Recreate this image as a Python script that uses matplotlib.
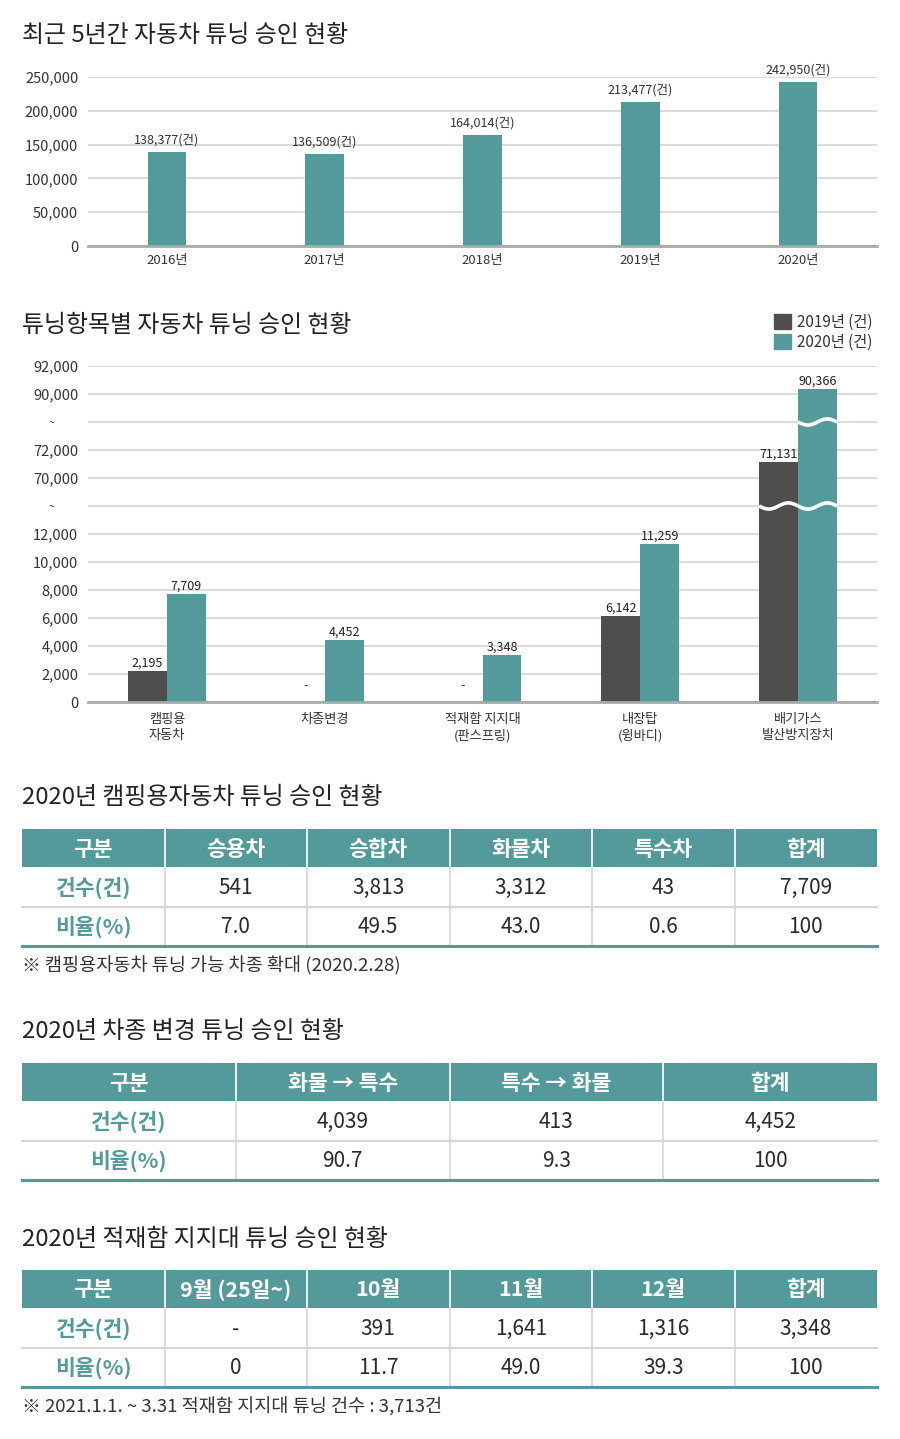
"""자동차 튜닝 승인 현황 인포그래픽 (막대 차트 2개 + 표 3개)."""
import numpy as np
import matplotlib
matplotlib.use("Agg")
import matplotlib.pyplot as plt
from matplotlib.patches import Rectangle, Patch
from matplotlib.ticker import FuncFormatter

plt.rcParams['font.family'] = ['Noto Sans CJK KR', 'DejaVu Sans']

TEAL = '#559a9b'
DARK = '#4f4d4e'
GRID = '#d6d6d6'
BASE = '#aaaaaa'
TXT = '#333333'
W, H = 900, 1439

# ---- 데이터 ----
years = ['2016년', '2017년', '2018년', '2019년', '2020년']
approvals = [138377, 136509, 164014, 213477, 242950]

items = ['캠핑용\n자동차', '차종변경', '적재함 지지대\n(판스프링)', '내장탑\n(윙바디)',
         '배기가스\n발산방지장치']
items_2019 = [2195, None, None, 6142, 71131]
items_2020 = [7709, 4452, 3348, 11259, 90366]

# 끊긴 축: 값 -> 칸 위치
brk_vals = [0, 12000, 70000, 72000, 90000, 92000]
brk_pos = [0, 6, 8, 9, 11, 12]
ticks2 = [0, 2000, 4000, 6000, 8000, 10000, 12000, 41000, 70000, 72000, 81000, 90000, 92000]
breaks2 = [41000, 81000]

camp_cols = ['구분', '승용차', '승합차', '화물차', '특수차', '합계']
camp_cnt = ['541', '3,813', '3,312', '43', '7,709']
camp_pct = ['7.0', '49.5', '43.0', '0.6', '100']

conv_cols = ['구분', '화물 → 특수', '특수 → 화물', '합계']
conv_cnt = ['4,039', '413', '4,452']
conv_pct = ['90.7', '9.3', '100']

leaf_cols = ['구분', '9월 (25일~)', '10월', '11월', '12월', '합계']
leaf_cnt = ['-', '391', '1,641', '1,316', '3,348']
leaf_pct = ['0', '11.7', '49.0', '39.3', '100']

row_names = ['건수(건)', '비율(%)']


def fwd(v):
    return np.interp(v, brk_vals, brk_pos)


def inv(p):
    return np.interp(p, brk_pos, brk_vals)


def ax_rect(top, bottom, left=88, right=877):
    return [left / W, 1 - bottom / H, (right - left) / W, (bottom - top) / H]


def style_axes(ax):
    ax.set_facecolor('none')
    for s in ['top', 'right', 'left']:
        ax.spines[s].set_visible(False)
    ax.spines['bottom'].set_color(BASE)
    ax.spines['bottom'].set_linewidth(2)
    ax.spines['bottom'].set_zorder(4)
    ax.yaxis.grid(True, color=GRID, lw=1.2)
    ax.set_axisbelow(True)
    ax.tick_params(length=0, labelsize=10.5, labelcolor=TXT)
    ax.tick_params(axis='y', pad=7)
    ax.tick_params(axis='x', pad=6, labelsize=9.5)


fig = plt.figure(figsize=(W / 100, H / 100), dpi=100)
bg = fig.add_axes([0, 0, 1, 1], zorder=0)
bg.set_xlim(0, W)
bg.set_ylim(H, 0)
bg.axis('off')

TITLE_FS = 17.2

# ---- 차트 1 ----
bg.text(22, 36, '최근 5년간 자동차 튜닝 승인 현황', fontsize=TITLE_FS, color='#222222', va='center')
ax1 = fig.add_axes(ax_rect(77, 246), zorder=2)
style_axes(ax1)
x = np.arange(len(years))
ax1.bar(x, approvals, width=0.245, color=TEAL, zorder=3)
for xi, v in zip(x, approvals):
    ax1.annotate(f'{v:,}(건)', (xi, v), xytext=(0, 4), textcoords='offset points',
                 ha='center', va='bottom', fontsize=9, color=TXT)
ax1.set_xlim(-0.5, len(years) - 0.5)
ax1.set_ylim(0, 250000)
ax1.set_yticks(range(0, 250001, 50000))
ax1.yaxis.set_major_formatter(FuncFormatter(lambda v, _: f'{int(v):,}'))
ax1.set_xticks(x)
ax1.set_xticklabels(years)

# ---- 차트 2 ----
bg.text(22, 325, '튜닝항목별 자동차 튜닝 승인 현황', fontsize=TITLE_FS, color='#222222', va='center')
ax2 = fig.add_axes(ax_rect(366, 702), zorder=2)
style_axes(ax2)
ax2.set_yscale('function', functions=(fwd, inv))
ax2.set_ylim(0, 92000)
ax2.set_yticks(ticks2)
ax2.set_yticklabels(['~' if t in breaks2 else f'{t:,}' for t in ticks2])
for lab, t in zip(ax2.get_yticklabels(), ticks2):
    if t in breaks2:
        lab.set_fontsize(8)
        lab.set_x(-0.03)
bw = 0.247
x2 = np.arange(len(items))
for xi, v in zip(x2, items_2019):
    if v is None:
        ax2.text(xi - bw / 2, 700, '-', ha='center', va='bottom', fontsize=9, color=TXT)
        continue
    ax2.bar(xi - bw / 2, v, width=bw, color=DARK, zorder=3)
    ax2.annotate(f'{v:,}', (xi - bw / 2, v), xytext=(0, 1), textcoords='offset points',
                 ha='center', va='bottom', fontsize=9, color='#222222')
for xi, v in zip(x2, items_2020):
    ax2.bar(xi + bw / 2, v, width=bw, color=TEAL, zorder=3)
    ax2.annotate(f'{v:,}', (xi + bw / 2, v), xytext=(0, 1), textcoords='offset points',
                 ha='center', va='bottom', fontsize=9, color='#222222')

# 물결 모양 생략 표시
for series, off in [(items_2019, -bw / 2), (items_2020, bw / 2)]:
    for xi, v in zip(x2, series):
        if v is None:
            continue
        for b in breaks2:
            if v > b:
                xs = np.linspace(xi + off - bw / 2, xi + off + bw / 2, 60)
                ph = (xs - (xi + off - bw / 2)) / bw
                ys = inv(fwd(b) - 0.11 * np.sin(2 * np.pi * ph))
                ax2.plot(xs, ys, color='white', lw=2.6, zorder=4, solid_capstyle='butt')

ax2.set_xlim(-0.5, len(items) - 0.5)
ax2.set_xticks(x2)
ax2.set_xticklabels(items, linespacing=1.25)
ax2.tick_params(axis='x', pad=8, labelsize=9.5)
fig.legend(handles=[Patch(color=DARK, label='2019년 (건)'), Patch(color=TEAL, label='2020년 (건)')],
           loc='upper right', bbox_to_anchor=(880 / W, 1 - 306 / H), frameon=False,
           fontsize=11, handlelength=1.1, handleheight=1.1, handletextpad=0.4,
           labelspacing=0.2, borderpad=0, labelcolor=TXT)


# ---- 표 ----
def draw_table(cols, rows, top, title, note=None):
    bg.text(22, top - 31, title, fontsize=TITLE_FS, color='#222222', va='center')
    left, right = 22, 877
    n = len(cols)
    edges = np.linspace(left, right, n + 1)
    hh, rh = 38, 39.5
    bg.add_patch(Rectangle((left, top), right - left, hh, color=TEAL, lw=0))
    for c in range(n):
        cx = (edges[c] + edges[c + 1]) / 2
        bg.text(cx, top + hh / 2 + 1, cols[c], ha='center', va='center', fontsize=15.5,
                color='white', fontweight='bold')
    for e in edges[1:-1]:
        bg.plot([e, e], [top, top + hh], color='white', lw=1.2)
        bg.plot([e, e], [top + hh, top + hh + 2 * rh], color=GRID, lw=1.2)
    for r, (name, vals) in enumerate(zip(row_names, rows)):
        y0 = top + hh + r * rh
        cy = y0 + rh / 2 + 1
        bg.text((edges[0] + edges[1]) / 2, cy, name, ha='center', va='center', fontsize=15.5,
                color=TEAL, fontweight='bold')
        for c, v in enumerate(vals):
            bg.text((edges[c + 1] + edges[c + 2]) / 2, cy, v, ha='center', va='center',
                    fontsize=15, color='#2a2a2a')
        if r == 0:
            bg.plot([left, right], [y0 + rh, y0 + rh], color=GRID, lw=1.5)
    yb = top + hh + 2 * rh
    bg.plot([left, right], [yb, yb], color=TEAL, lw=2.2)
    if note:
        bg.text(22, yb + 20, note, fontsize=13.4, color=TXT, va='center')


draw_table(camp_cols, [camp_cnt, camp_pct], 829, '2020년 캠핑용자동차 튜닝 승인 현황',
           '※ 캠핑용자동차 튜닝 가능 차종 확대 (2020.2.28)')
draw_table(conv_cols, [conv_cnt, conv_pct], 1063, '2020년 차종 변경 튜닝 승인 현황')
draw_table(leaf_cols, [leaf_cnt, leaf_pct], 1270, '2020년 적재함 지지대 튜닝 승인 현황',
           '※ 2021.1.1. ~ 3.31 적재함 지지대 튜닝 건수 : 3,713건')

fig.savefig('out.png', dpi=100)
